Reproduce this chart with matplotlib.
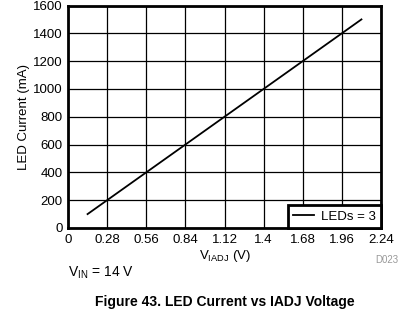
import matplotlib
matplotlib.use("Agg")
import matplotlib.pyplot as plt

plt.rcParams['font.family'] = ['Liberation Sans', 'DejaVu Sans']

v_iadj = [0.14, 0.28, 0.56, 0.84, 1.12, 1.40, 1.68, 1.96, 2.10]
led_current = [100, 200, 400, 600, 800, 1000, 1200, 1400, 1500]
xticks = [0, 0.28, 0.56, 0.84, 1.12, 1.4, 1.68, 1.96, 2.24]
xtick_labels = ["0", "0.28", "0.56", "0.84", "1.12", "1.4", "1.68", "1.96", "2.24"]
yticks = [0, 200, 400, 600, 800, 1000, 1200, 1400, 1600]

W, H = 413, 327
fig = plt.figure(figsize=(W/100, H/100), dpi=100)
ax = fig.add_axes([68/W, 1-228/H, (381-68)/W, (228-5.5)/H])

ax.plot(v_iadj, led_current, color='black', lw=1.3, label='LEDs = 3')
ax.set_xlim(0, 2.24)
ax.set_ylim(0, 1600)
ax.set_xticks(xticks)
ax.set_xticklabels(xtick_labels)
ax.set_yticks(yticks)
ax.grid(True, color='black', lw=0.9)
ax.tick_params(length=0, labelsize=9.5, pad=4)
for s in ax.spines.values():
    s.set_linewidth(2)
ax.set_xlabel(r'V$_{\mathregular{IADJ}}$ (V)', fontsize=9.5, labelpad=2)
ax.set_ylabel('LED Current (mA)', fontsize=9.5, labelpad=2)

leg = ax.legend(loc='lower right', fontsize=9.5, frameon=True, fancybox=False,
                borderaxespad=0, handlelength=1.6, borderpad=0.4, handletextpad=0.5)
leg.get_frame().set_edgecolor('black')
leg.get_frame().set_linewidth(2)
leg.get_frame().set_alpha(1)

fig.text(398/W, 1-260/H, 'D023', color='#999999', fontsize=7, ha='right', va='center')
fig.text(68/W, 1-273/H, r'V$_{\mathregular{IN}}$ = 14 V', fontsize=10, ha='left', va='center')
fig.text(225/W, 1-302/H, 'Figure 43. LED Current vs IADJ Voltage', fontsize=10,
         fontweight='bold', ha='center', va='center')

fig.savefig('out.png', dpi=100)
